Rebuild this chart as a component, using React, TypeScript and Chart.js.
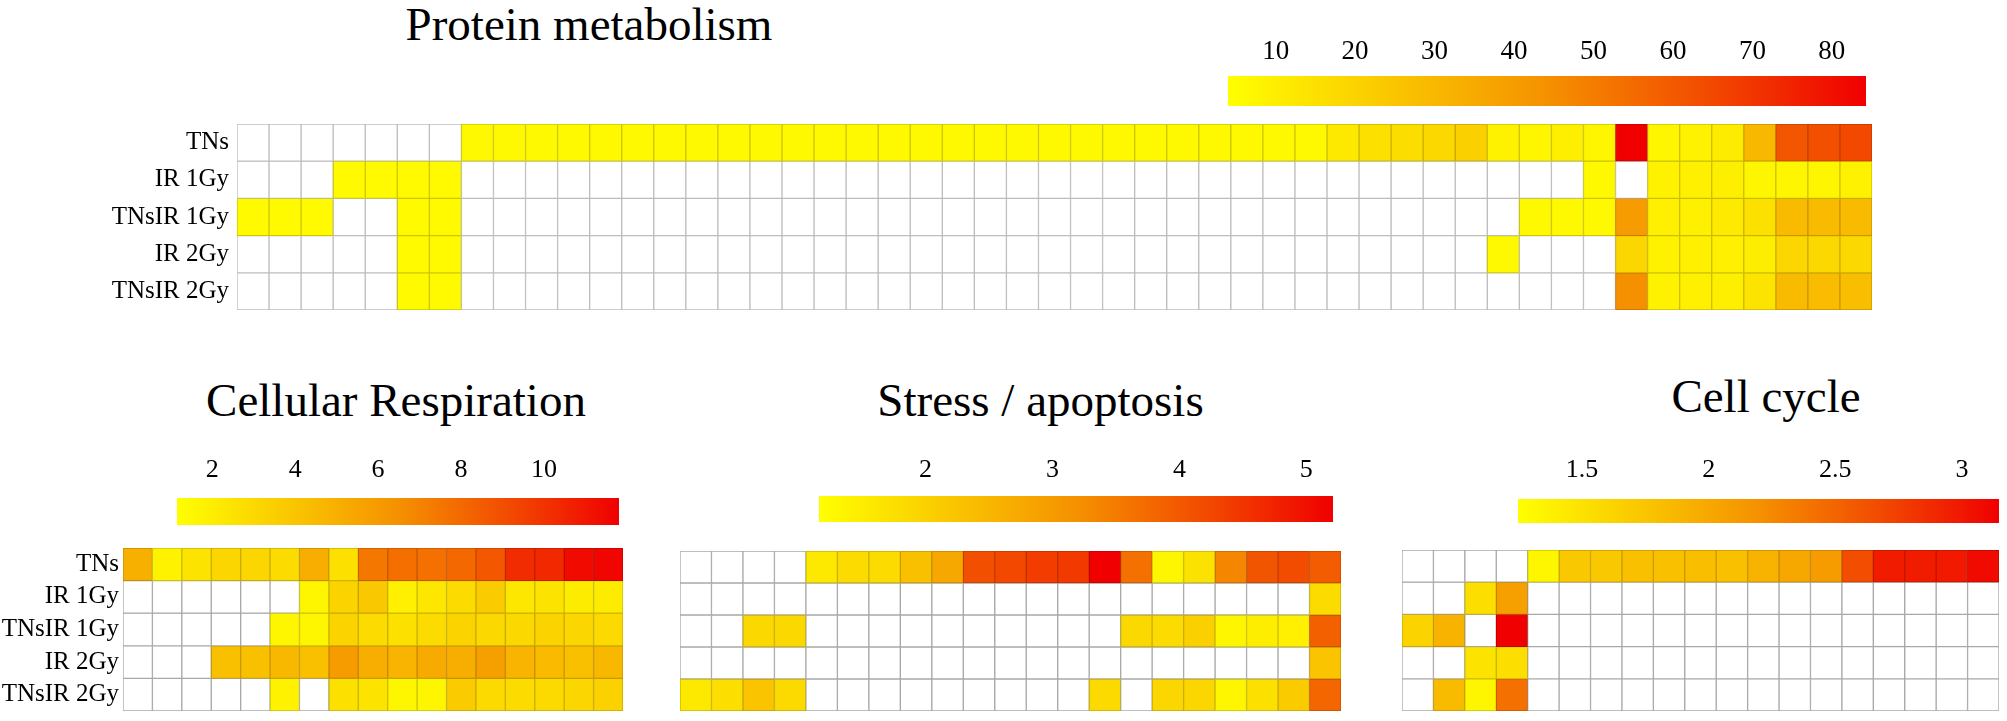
import React, { useEffect, useRef } from 'react';
import { Chart, registerables } from 'chart.js';

Chart.register(...registerables);

const SERIF = '"Liberation Serif", "DejaVu Serif", serif';

const rowLabels = ['TNs', 'IR 1Gy', 'TNsIR 1Gy', 'IR 2Gy', 'TNsIR 2Gy'];

const _ = null;

// ---------- Protein metabolism (51 columns) ----------
const proteinMin = 4;
const proteinMax = 84.3;
const proteinTicks = [10, 20, 30, 40, 50, 60, 70, 80];
const proteinValues: (number | null)[][] = [
  [_, _, _, _, _, _, _, 6.5, 6.5, 6.5, 6.5, 6.5, 6.5, 6.5, 6.5, 6.5, 6.5, 6.5, 6.5, 6.5, 6.5, 6.5, 6.5, 6.5, 6.5, 6.5, 6.5, 6.5, 6.5, 6.5, 6.5, 6.5, 6.5, 6.5, 12.4, 15.3, 16.4, 18.2, 21.2, 8.7, 7.7, 10, 7.7, 84.3, 7.7, 8.7, 10.9, 30, 61, 63, 65],
  [_, _, _, 6, 6, 6, 6, _, _, _, _, _, _, _, _, _, _, _, _, _, _, _, _, _, _, _, _, _, _, _, _, _, _, _, _, _, _, _, _, _, _, _, 6.5, _, 8.7, 9.5, 10, 7.7, 7.7, 7.7, 8.7],
  [6, 6, 6, _, _, 6, 6, _, _, _, _, _, _, _, _, _, _, _, _, _, _, _, _, _, _, _, _, _, _, _, _, _, _, _, _, _, _, _, _, _, 6.5, 6.5, 6.5, 40.5, 9.5, 9.5, 11.6, 15.3, 29, 29, 29],
  [_, _, _, _, _, 6, 6, _, _, _, _, _, _, _, _, _, _, _, _, _, _, _, _, _, _, _, _, _, _, _, _, _, _, _, _, _, _, _, _, 6.5, _, _, _, 19, 8.7, 9.5, 9.5, 10.5, 19, 18.2, 18.2],
  [_, _, _, _, _, 6, 6, _, _, _, _, _, _, _, _, _, _, _, _, _, _, _, _, _, _, _, _, _, _, _, _, _, _, _, _, _, _, _, _, _, _, _, _, 44.5, 8.7, 9.5, 10, 14, 29, 28.4, 27.6],
];

// ---------- Cellular Respiration (17 columns) ----------
const respMin = 1.15;
const respMax = 11.81;
const respTicks = [2, 4, 6, 8, 10];
const respValues: (number | null)[][] = [
  [4.98, 1.78, 2.46, 3.13, 3.13, 2.85, 5.07, 2.65, 7.43, 7.8, 7.74, 8.04, 8.65, 10.24, 10.39, 11.46, 11.63],
  [_, _, _, _, _, _, 1.63, 3.23, 3.82, 1.88, 2.36, 2.85, 3.62, 2.36, 2.46, 2.07, 2.07],
  [_, _, _, _, _, 1.63, 1.63, 3.23, 2.85, 2.65, 2.85, 3.23, 3.04, 3.04, 3.23, 3.13, 2.95],
  [_, _, _, 4.2, 4.2, 4.59, 4.2, 6.0, 5.07, 4.78, 5.27, 5.07, 5.76, 4.78, 4.5, 4.2, 4.59],
  [_, _, _, _, _, 1.78, _, 2.65, 2.46, 1.63, 1.63, 3.62, 2.95, 2.85, 2.95, 3.13, 3.33],
];

// ---------- Stress / apoptosis (21 columns) ----------
const stressMin = 1.16;
const stressMax = 5.21;
const stressTicks = [2, 3, 4, 5];
const stressValues: (number | null)[][] = [
  [_, _, _, _, 1.58, 1.8, 1.8, 2.32, 2.76, 4.12, 4.24, 4.4, 4.43, 5.21, 3.66, 1.34, 1.69, 3.34, 4.05, 4.18, 3.95],
  [_, _, _, _, _, _, _, _, _, _, _, _, _, _, _, _, _, _, _, _, 1.8],
  [_, _, 1.88, 1.88, _, _, _, _, _, _, _, _, _, _, 1.88, 1.8, 2.03, 1.34, 1.47, 1.44, 3.89],
  [_, _, _, _, _, _, _, _, _, _, _, _, _, _, _, _, _, _, _, _, 2.25],
  [1.58, 1.77, 2.25, 1.84, _, _, _, _, _, _, _, _, _, 1.84, _, 1.91, 1.91, 1.34, 1.73, 2.1, 3.81],
];

// ---------- Cell cycle (19 columns) ----------
const cycleMin = 1.247;
const cycleMax = 3.146;
const cycleTicks = [1.5, 2, 2.5, 3];
const cycleValues: (number | null)[][] = [
  [_, _, _, _, 1.33, 1.72, 1.72, 1.79, 1.79, 1.81, 1.79, 1.9, 2.0, 2.1, 2.66, 2.97, 2.97, 2.99, 3.08],
  [_, _, 1.52, 2.07, _, _, _, _, _, _, _, _, _, _, _, _, _, _, _],
  [1.62, 1.9, _, 3.146, _, _, _, _, _, _, _, _, _, _, _, _, _, _, _],
  [_, _, 1.48, 1.52, _, _, _, _, _, _, _, _, _, _, _, _, _, _, _],
  [_, 1.83, 1.33, 2.42, _, _, _, _, _, _, _, _, _, _, _, _, _, _, _],
];

// ---------- colour map (yellow -> orange -> red) ----------
const STOPS: number[][] = [
  [0, 255, 255, 0],
  [0.25, 250, 200, 0],
  [0.5, 245, 145, 0],
  [0.75, 242, 75, 0],
  [1, 240, 0, 0],
];

function rgbAt(t: number): number[] {
  const tt = Math.max(0, Math.min(1, t));
  for (let i = 0; i < STOPS.length - 1; i++) {
    const a = STOPS[i];
    const b = STOPS[i + 1];
    if (tt <= b[0]) {
      const f = (tt - a[0]) / (b[0] - a[0]);
      return [a[1] + (b[1] - a[1]) * f, a[2] + (b[2] - a[2]) * f, a[3] + (b[3] - a[3]) * f];
    }
  }
  const l = STOPS[STOPS.length - 1];
  return [l[1], l[2], l[3]];
}

function cellColor(v: number | null, min: number, max: number): string {
  if (v == null) return '#ffffff';
  const c = rgbAt((v - min) / (max - min));
  return `rgb(${Math.round(c[0])},${Math.round(c[1])},${Math.round(c[2])})`;
}

function cellBorder(v: number | null, min: number, max: number, empty: string): string {
  if (v == null) return empty;
  const c = rgbAt((v - min) / (max - min));
  const k = 0.8;
  return `rgb(${Math.round(c[0] * k)},${Math.round(c[1] * k)},${Math.round(c[2] * k)})`;
}

type HeatProps = {
  values: (number | null)[][];
  min: number;
  max: number;
  left: number;
  top: number;
  gridWidth: number;
  height: number;
  labelWidth: number;
  labelGap: number;
  labelSize: number;
  emptyBorder: string;
};

function Heatmap(p: HeatProps) {
  const ref = useRef<HTMLCanvasElement | null>(null);
  const w = p.gridWidth + p.labelWidth;
  useEffect(() => {
    if (!ref.current) return;
    const cols = p.values[0].map((_v, i) => String(i + 1));
    const datasets = p.values.map((row, r) => ({
      label: rowLabels[r],
      data: row.map(() => [r, r + 1]),
      backgroundColor: row.map((v) => cellColor(v, p.min, p.max)),
      borderColor: row.map((v) => cellBorder(v, p.min, p.max, p.emptyBorder)),
      borderWidth: 1,
      borderSkipped: false,
      grouped: false,
      barPercentage: 1,
      categoryPercentage: 1,
    }));
    const chart = new Chart(ref.current, {
      type: 'bar',
      data: { labels: cols, datasets: datasets as any },
      options: {
        animation: false,
        responsive: false,
        maintainAspectRatio: false,
        devicePixelRatio: 1,
        layout: { padding: 0 },
        plugins: { legend: { display: false }, tooltip: { enabled: false }, title: { display: false } },
        scales: {
          x: { display: false, offset: true },
          y: {
            type: 'linear',
            min: 0,
            max: p.values.length,
            reverse: true,
            display: p.labelWidth > 0,
            afterFit: (s: any) => {
              s.width = p.labelWidth;
              s.paddingTop = 0;
              s.paddingBottom = 0;
            },
            afterBuildTicks: (s: any) => {
              s.ticks = rowLabels.map((_l, i) => ({ value: i + 0.5 }));
            },
            grid: { display: false, drawTicks: false },
            border: { display: false },
            ticks: {
              autoSkip: false,
              padding: p.labelGap,
              color: '#000',
              font: { family: SERIF, size: p.labelSize },
              callback: (v: any) => rowLabels[Math.floor(Number(v))],
            },
          },
        },
      } as any,
    });
    return () => chart.destroy();
  }, []);
  return (
    <canvas
      ref={ref}
      width={w}
      height={p.height}
      style={{ position: 'absolute', left: p.left, top: p.top, width: w, height: p.height }}
    />
  );
}

type BarProps = {
  min: number;
  max: number;
  ticks: number[];
  left: number;
  barTop: number;
  width: number;
  barHeight: number;
  fontSize: number;
  padding: number;
};

const AXIS_H = 60;

function ColorBar(p: BarProps) {
  const ref = useRef<HTMLCanvasElement | null>(null);
  const h = AXIS_H + p.barHeight;
  useEffect(() => {
    if (!ref.current) return;
    const chart = new Chart(ref.current, {
      type: 'bar',
      data: {
        labels: [''],
        datasets: [
          {
            data: [[p.min, p.max]] as any,
            backgroundColor: (c: any) => {
              const chartObj = c.chart;
              const a = chartObj.chartArea;
              if (!a) return 'rgba(0,0,0,0)';
              const g = chartObj.ctx.createLinearGradient(a.left, 0, a.right, 0);
              STOPS.forEach((s) => g.addColorStop(s[0], `rgb(${s[1]},${s[2]},${s[3]})`));
              return g;
            },
            borderWidth: 0,
            barPercentage: 1,
            categoryPercentage: 1,
          },
        ],
      },
      options: {
        indexAxis: 'y',
        animation: false,
        responsive: false,
        maintainAspectRatio: false,
        devicePixelRatio: 1,
        layout: { padding: 0 },
        plugins: { legend: { display: false }, tooltip: { enabled: false } },
        scales: {
          x: {
            type: 'linear',
            position: 'top',
            min: p.min,
            max: p.max,
            afterFit: (s: any) => {
              s.height = AXIS_H;
              s.paddingLeft = 0;
              s.paddingRight = 0;
            },
            afterBuildTicks: (s: any) => {
              s.ticks = p.ticks.map((v) => ({ value: v }));
            },
            grid: { display: false, drawTicks: false },
            border: { display: false },
            ticks: {
              autoSkip: false,
              maxRotation: 0,
              padding: p.padding,
              color: '#000',
              font: { family: SERIF, size: p.fontSize },
              callback: (v: any) => String(v),
            },
          },
          y: { display: false },
        },
      } as any,
    });
    return () => chart.destroy();
  }, []);
  return (
    <canvas
      ref={ref}
      width={p.width}
      height={h}
      style={{ position: 'absolute', left: p.left, top: p.barTop - AXIS_H, width: p.width, height: h }}
    />
  );
}

function Title({ text, cx, baseline, size }: { text: string; cx: number; baseline: number; size: number }) {
  return (
    <div
      style={{
        position: 'absolute',
        left: cx - 400,
        width: 800,
        textAlign: 'center',
        top: baseline - size * 0.8375,
        fontFamily: SERIF,
        fontSize: size,
        lineHeight: `${size}px`,
        whiteSpace: 'nowrap',
        color: '#000',
      }}
    >
      {text}
    </div>
  );
}

export default function App() {
  return (
    <div
      style={{
        position: 'absolute',
        left: 0,
        top: 0,
        width: 2007,
        height: 721,
        overflow: 'hidden',
        background: '#ffffff',
      }}
    >
      <Title text="Protein metabolism" cx={589} baseline={40.7} size={47} />
      <ColorBar min={proteinMin} max={proteinMax} ticks={proteinTicks} left={1228} barTop={76} width={638} barHeight={30} fontSize={27} padding={8} />
      <Heatmap values={proteinValues} min={proteinMin} max={proteinMax} left={0} top={124} gridWidth={1635} height={186} labelWidth={237} labelGap={8} labelSize={25} emptyBorder="#bdbdbd" />

      <Title text="Cellular Respiration" cx={396} baseline={416.7} size={47} />
      <ColorBar min={respMin} max={respMax} ticks={respTicks} left={177} barTop={498} width={442} barHeight={27} fontSize={26} padding={12} />
      <Heatmap values={respValues} min={respMin} max={respMax} left={0} top={548} gridWidth={500} height={163} labelWidth={123} labelGap={4} labelSize={25} emptyBorder="#a8a8a8" />

      <Title text="Stress / apoptosis" cx={1040.5} baseline={416.7} size={47} />
      <ColorBar min={stressMin} max={stressMax} ticks={stressTicks} left={819} barTop={496} width={514} barHeight={26} fontSize={26} padding={10} />
      <Heatmap values={stressValues} min={stressMin} max={stressMax} left={680} top={551} gridWidth={661} height={160} labelWidth={0} labelGap={0} labelSize={25} emptyBorder="#a8a8a8" />

      <Title text="Cell cycle" cx={1766} baseline={412} size={47} />
      <ColorBar min={cycleMin} max={cycleMax} ticks={cycleTicks} left={1518} barTop={499} width={481} barHeight={24} fontSize={26} padding={13} />
      <Heatmap values={cycleValues} min={cycleMin} max={cycleMax} left={1402} top={550} gridWidth={597} height={161} labelWidth={0} labelGap={0} labelSize={25} emptyBorder="#a8a8a8" />
    </div>
  );
}
